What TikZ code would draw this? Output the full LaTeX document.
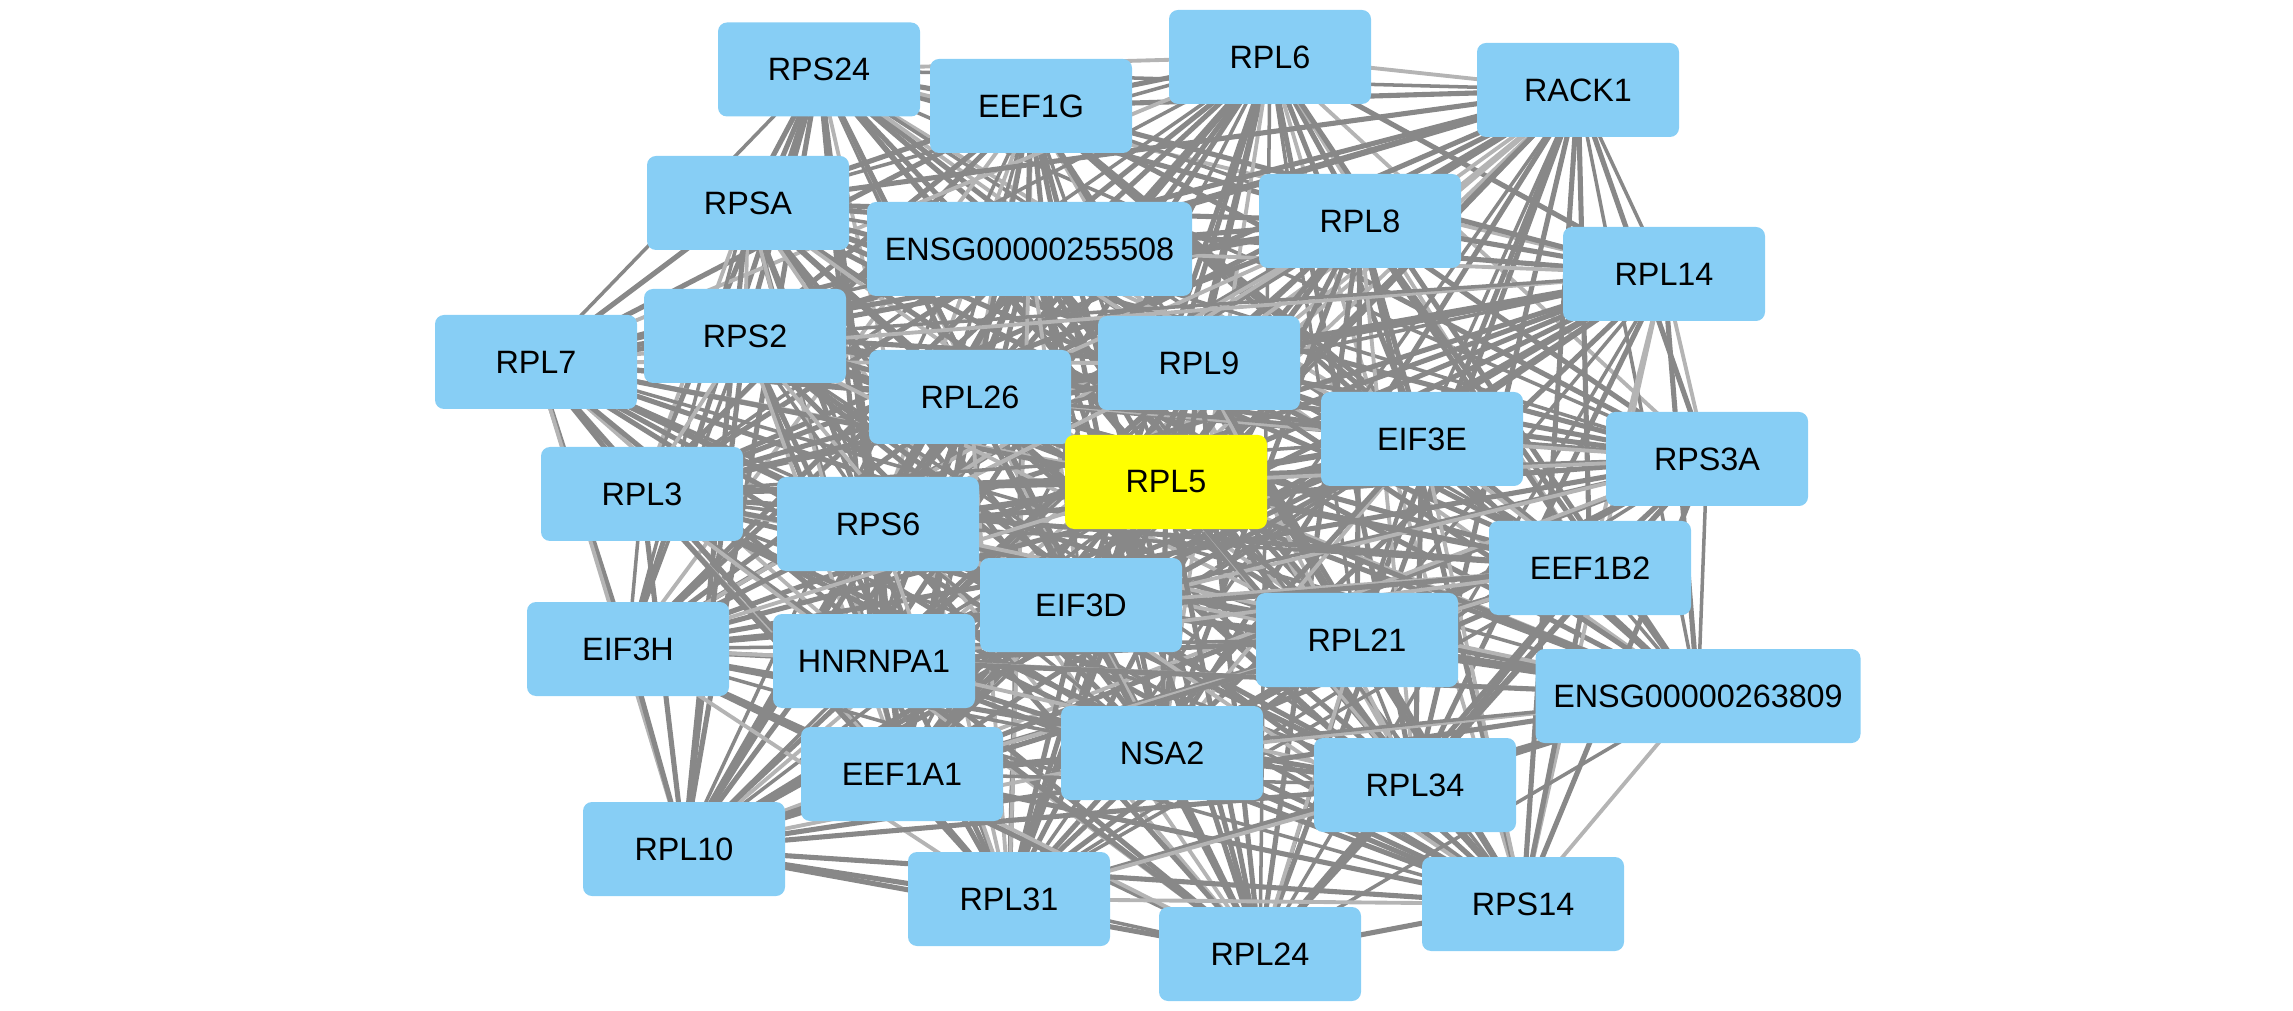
\documentclass[tikz,border=0pt]{standalone}
\usepackage{fontspec}
\setmainfont{Liberation Sans}
\usepackage{tikz}
\definecolor{genefill}{HTML}{87CEF5}
\definecolor{hubfill}{HTML}{FFFF00}
\definecolor{linkgray}{HTML}{888888}
\definecolor{linklight}{HTML}{B4B4B4}
\pgfdeclarelayer{bg}
\pgfsetlayers{bg,main}
\tikzset{
  gene/.style={fill=genefill, rounded corners=0.09cm, minimum width=2.02cm, minimum height=0.94cm, inner sep=0pt, font=\fontsize{9.2}{11}\selectfont},
  widegene/.style={gene, minimum width=3.25cm},
  hubgene/.style={gene, fill=hubfill},
  link/.style={draw=linkgray, line width=1.45pt},
  thinlink/.style={draw=linkgray, line width=1.0pt},
  lightlink/.style={draw=linklight, line width=1.1pt}
}
\def\genes{RPS24,EEF1G,RPL6,RACK1,RPSA,ENSG00000255508,RPL8,RPL14,RPL7,RPS2,RPL26,RPL9,EIF3E,RPS3A,RPL3,RPS6,RPL5,EIF3D,EEF1B2,RPL21,EIF3H,HNRNPA1,ENSG00000263809,NSA2,EEF1A1,RPL34,RPL10,RPL31,RPS14,RPL24}

\begin{document}
\begin{tikzpicture}
			%%%%% START %%%%%
			\useasboundingbox (0, 0) rectangle (22.93, -10.11);
			
			\node[gene] (RPS24) at (8.19, -0.695) {RPS24};
			\node[gene] (EEF1G) at (10.31, -1.06) {EEF1G};
			\node[gene] (RPL6) at (12.70, -0.57) {RPL6};
			\node[gene] (RACK1) at (15.78, -0.90) {RACK1};
			\node[gene] (RPSA) at (7.48, -2.03) {RPSA};
			\node[widegene] (ENSG00000255508) at (10.295, -2.49) {ENSG00000255508};
			\node[gene] (RPL8) at (13.60, -2.21) {RPL8};
			\node[gene] (RPL14) at (16.64, -2.74) {RPL14};
			\node[gene] (RPL7) at (5.36, -3.62) {RPL7};
			\node[gene] (RPS2) at (7.45, -3.36) {RPS2};
			\node[gene] (RPL26) at (9.70, -3.97) {RPL26};
			\node[gene] (RPL9) at (11.99, -3.63) {RPL9};
			\node[gene] (EIF3E) at (14.22, -4.39) {EIF3E};
			\node[gene] (RPS3A) at (17.07, -4.59) {RPS3A};
			\node[gene] (RPL3) at (6.42, -4.94) {RPL3};
			\node[gene] (RPS6) at (8.78, -5.24) {RPS6};
			\node[hubgene] (RPL5) at (11.66, -4.82) {RPL5};
			\node[gene] (EIF3D) at (10.81, -6.05) {EIF3D};
			\node[gene] (EEF1B2) at (15.90, -5.68) {EEF1B2};
			\node[gene] (RPL21) at (13.57, -6.40) {RPL21};
			\node[gene] (EIF3H) at (6.28, -6.49) {EIF3H};
			\node[gene] (HNRNPA1) at (8.74, -6.61) {HNRNPA1};
			\node[widegene] (ENSG00000263809) at (16.98, -6.96) {ENSG00000263809};
			\node[gene] (NSA2) at (11.62, -7.53) {NSA2};
			\node[gene] (EEF1A1) at (9.02, -7.74) {EEF1A1};
			\node[gene] (RPL34) at (14.15, -7.85) {RPL34};
			\node[gene] (RPL10) at (6.84, -8.49) {RPL10};
			\node[gene] (RPL31) at (10.09, -8.99) {RPL31};
			\node[gene] (RPS14) at (15.23, -9.04) {RPS14};
			\node[gene] (RPL24) at (12.60, -9.54) {RPL24};
			
			% links under the boxes
			\begin{pgfonlayer}{bg}
			\foreach \a [count=\i] in \genes {
				\foreach \b [count=\j] in \genes {
					\ifnum\j>\i
						\pgfmathtruncatemacro\w{mod(\i*7+\j*11,5)}
						\ifnum\w=0
							\draw[lightlink] (\a.center) -- (\b.center);
						\else\ifnum\w=1
							\draw[thinlink] (\a.center) -- (\b.center);
						\else
							\draw[link] (\a.center) -- (\b.center);
						\fi\fi
					\fi
				}
			}
			\end{pgfonlayer}
			%%%%% END %%%%%
\end{tikzpicture}
\end{document}
